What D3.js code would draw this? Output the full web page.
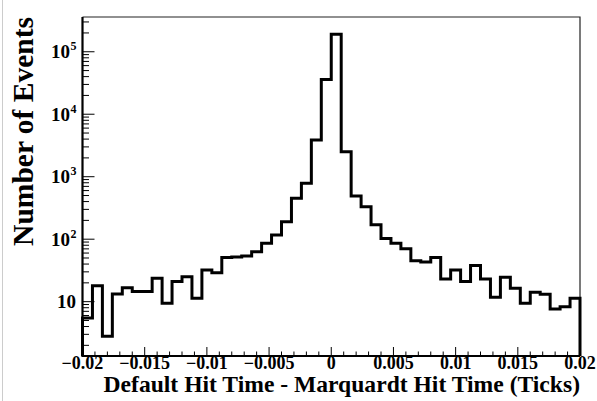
<!DOCTYPE html>
<html>
<head>
<meta charset="utf-8">
<script src="https://cdn.jsdelivr.net/npm/d3@7"></script>
<style>
  body { margin: 0; background: #fff; }
  text { font-family: "Liberation Serif", "Times New Roman", serif; font-weight: bold; fill: #000; }
</style>
</head>
<body>
<div id="chart"></div>
<script>
// histogram: 50 bins of 0.0008 from -0.02 to 0.02
const binStart = -0.02;
const binWidth = 0.0008;
const counts = [5.5, 18, 2.8, 13.3, 16.7, 14.5, 14.5, 23.7, 9.4, 21,
                25, 11.3, 32, 29, 51, 52, 54, 63, 86, 117,
                190, 451, 784, 3860, 36100, 190000, 2510, 491, 331, 170,
                103, 86, 70, 45, 43, 51, 23, 32, 21, 38,
                23, 11.8, 24.6, 16.4, 9.4, 14.1, 13.1, 7.6, 8.3, 11.3];

const xTicks = [-0.02, -0.015, -0.01, -0.005, 0, 0.005, 0.01, 0.015, 0.02];
const xTickLabels = ["\u22120.02", "\u22120.015", "\u22120.01", "\u22120.005", "0", "0.005", "0.01", "0.015", "0.02"];
const yTicks = [10, 100, 1000, 10000, 100000];
const yTickExp = ["", "2", "3", "4", "5"];

const xTitle = "Default Hit Time - Marquardt Hit Time (Ticks)";
const yTitle = "Number of Events";

const width = 597, height = 401;
const margin = { top: 17, right: 17, bottom: 45, left: 82.5 };

const svg = d3.select("#chart")
    .append("svg")
    .attr("width", width)
    .attr("height", height);

const x = d3.scaleLinear()
    .domain([-0.02, 0.02])
    .range([margin.left, width - margin.right]);

const y = d3.scaleLog()
    .domain([1.35, 3.6e5])
    .range([height - margin.bottom, margin.top]);

const x0 = x.range()[0], x1 = x.range()[1];
const yb = y.range()[0], yt = y.range()[1];

// faint page edge
svg.append("line")
    .attr("x1", 2.5).attr("x2", 2.5).attr("y1", 0).attr("y2", height)
    .attr("stroke", "#ccc").attr("stroke-width", 1);

// frame top + right (thin)
svg.append("path")
    .attr("d", `M${x0},${yt}H${x1}V${yb}`)
    .attr("fill", "none")
    .attr("stroke", "#222")
    .attr("stroke-width", 1.2);

// x ticks
const xMinor = d3.range(0, 41).map(function(i) { return -0.02 + i * 0.001; });
svg.append("g").selectAll("line")
    .data(xMinor)
    .enter().append("line")
    .attr("x1", function(d) { return x(d); })
    .attr("x2", function(d) { return x(d); })
    .attr("y1", yb)
    .attr("y2", function(d, i) { return i % 5 === 0 ? yb - 9 : yb - 4.5; })
    .attr("stroke", "#000")
    .attr("stroke-width", 1);

svg.append("g").selectAll("text")
    .data(xTicks)
    .enter().append("text")
    .attr("x", function(d) { return x(d); })
    .attr("y", yb + 12.5)
    .attr("text-anchor", "middle")
    .style("font-size", "18px")
    .text(function(d, i) { return xTickLabels[i]; });

// y ticks, log: decades major, 2..9 minor
const yMinor = [];
for (let e = 0; e <= 5; e++) {
    for (let m = 2; m <= 9; m++) {
        const v = m * Math.pow(10, e);
        if (v > y.domain()[0] && v < y.domain()[1]) yMinor.push(v);
    }
}
svg.append("g").selectAll("line")
    .data(yMinor)
    .enter().append("line")
    .attr("x1", x0).attr("x2", x0 + 6.5)
    .attr("y1", function(d) { return y(d); })
    .attr("y2", function(d) { return y(d); })
    .attr("stroke", "#000").attr("stroke-width", 1);

svg.append("g").selectAll("line")
    .data(yTicks)
    .enter().append("line")
    .attr("x1", x0).attr("x2", x0 + 12)
    .attr("y1", function(d) { return y(d); })
    .attr("y2", function(d) { return y(d); })
    .attr("stroke", "#000").attr("stroke-width", 1);

const yl = svg.append("g").selectAll("g")
    .data(yTicks)
    .enter().append("g")
    .attr("transform", function(d) { return `translate(0,${y(d)})`; });

yl.append("text")
    .attr("x", function(d, i) { return yTickExp[i] ? 70 : 76; })
    .attr("y", 6.5)
    .attr("text-anchor", "end")
    .style("font-size", "19px")
    .text("10");

yl.append("text")
    .attr("x", 70.5)
    .attr("y", -1.5)
    .style("font-size", "12px")
    .text(function(d, i) { return yTickExp[i]; });

// histogram outline
const bins = counts.map(function(c, i) {
    return { lo: binStart + i * binWidth, hi: binStart + (i + 1) * binWidth, n: c };
});
let d = `M${x(bins[0].lo)},${yb}`;
bins.forEach(function(b) {
    d += `V${y(b.n)}H${x(b.hi)}`;
});
d += `V${yb}`;

svg.append("path")
    .attr("d", d)
    .attr("fill", "none")
    .attr("stroke", "#000")
    .attr("stroke-width", 3)
    .attr("stroke-linejoin", "miter");

// left + bottom axis lines (thick)
svg.append("path")
    .attr("d", `M${x0},${yt}V${yb}H${x1}`)
    .attr("fill", "none")
    .attr("stroke", "#000")
    .attr("stroke-width", 2.2);

// titles
svg.append("text")
    .attr("x", x1)
    .attr("y", 392)
    .attr("text-anchor", "end")
    .style("font-size", "23.6px")
    .text(xTitle);

svg.append("text")
    .attr("transform", `translate(33,${yt}) rotate(-90)`)
    .attr("text-anchor", "end")
    .style("font-size", "29.5px")
    .text(yTitle);
</script>
</body>
</html>
